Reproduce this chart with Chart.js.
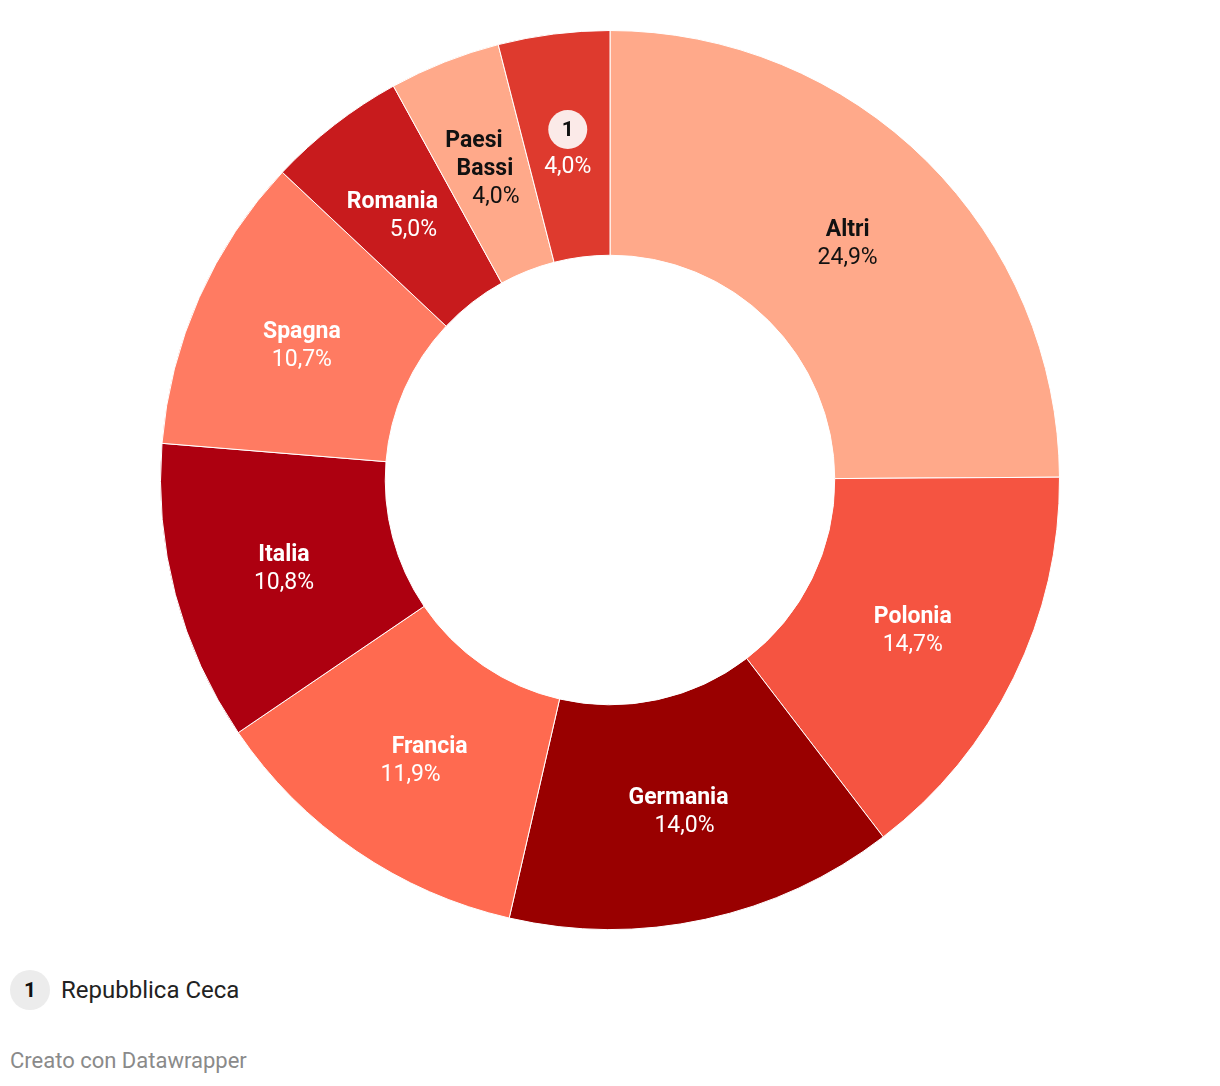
<!DOCTYPE html>
<html><head><meta charset="utf-8">
<script src="https://cdn.jsdelivr.net/npm/chart.js@4/dist/chart.umd.min.js"></script>
<style>
html,body{margin:0;padding:0;background:#fff;font-family:Roboto,sans-serif;}
#wrap{position:relative;width:1220px;height:1086px;}
#c{position:absolute;left:0;top:0;}
.leg{position:absolute;left:10px;top:970px;display:flex;align-items:center;font-size:24px;color:#222;}
.leg .b{width:40px;height:40px;border-radius:50%;background:#ececec;display:flex;align-items:center;justify-content:center;font-weight:700;font-size:21px;color:#111;margin-right:11px;}
.foot{position:absolute;left:10px;top:1048px;font-size:22px;color:#8a8a8a;}
</style></head>
<body><div id="wrap">
<canvas id="c" width="1220" height="960"></canvas>
<div class="leg"><div class="b">1</div>Repubblica Ceca</div>
<div class="foot">Creato con Datawrapper</div>
</div>
<script>
const categories = ["Altri","Polonia","Germania","Francia","Italia","Spagna","Romania","Paesi Bassi","Repubblica Ceca"];
const labelLines = [["Altri"],["Polonia"],["Germania"],["Francia"],["Italia"],["Spagna"],["Romania"],["Paesi","Bassi"],null];
const values = [24.9,14.7,14.0,11.9,10.8,10.7,5.0,4.0,4.0];
const colors = ["#FFA98A","#F55441","#990000","#FF6A50","#AD0010","#FF7B62","#C81B1D","#FFA98A","#DE3A2E"];
const textColors = ["#111","#fff","#fff","#fff","#fff","#fff","#fff","#111","#fff"];
// per-line horizontal nudges of the label text (style only)
const lineNudges = [[0,0],[0,0],[-3,3],[10,-9],[0,0],[0,0],[-11,10],[-12,-1,10],[0,0]];

const labelPlugin = {
  id:'lbl',
  afterDatasetsDraw(chart){
    const ctx = chart.ctx;
    const meta = chart.getDatasetMeta(0);
    const lh = 28, dy = 3;
    meta.data.forEach((arc,i)=>{
      const p = arc.tooltipPosition();
      const val = values[i].toFixed(1).replace('.',',')+'%';
      const nud = lineNudges[i];
      ctx.save();
      ctx.textAlign='center';ctx.textBaseline='middle';
      if(labelLines[i]===null){
        const cy1 = p.y - 16, cy2 = p.y + 19 + dy;
        ctx.beginPath();ctx.arc(p.x, cy1, 19.5, 0, Math.PI*2);ctx.fillStyle='#FBEAE8';ctx.fill();
        ctx.fillStyle='#111';ctx.font='700 21px Roboto';ctx.fillText('1',p.x,cy1+1);
        ctx.fillStyle=textColors[i];ctx.font='400 23px Roboto';ctx.fillText(val,p.x,cy2);
      } else {
        const lines = labelLines[i].length;
        const total = lines+1;
        let y = p.y - (total-1)*lh/2 + dy;
        ctx.fillStyle=textColors[i];
        ctx.font='700 23px Roboto';
        labelLines[i].forEach((t,k)=>{ctx.fillText(t,p.x+nud[k],y);y+=lh;});
        ctx.font='400 23px Roboto';
        ctx.fillText(val,p.x+nud[lines],y);
      }
      ctx.restore();
    });
  }
};

new Chart(document.getElementById('c'),{
  type:'doughnut',
  data:{labels:categories,datasets:[{data:values,backgroundColor:colors,borderColor:'#fff',borderWidth:1,hoverOffset:0}]},
  options:{
    responsive:false,animation:false,cutout:'50%',
    layout:{padding:{top:30,bottom:30}},
    plugins:{legend:{display:false},tooltip:{enabled:false}}
  },
  plugins:[labelPlugin]
});
</script>
</body></html>
